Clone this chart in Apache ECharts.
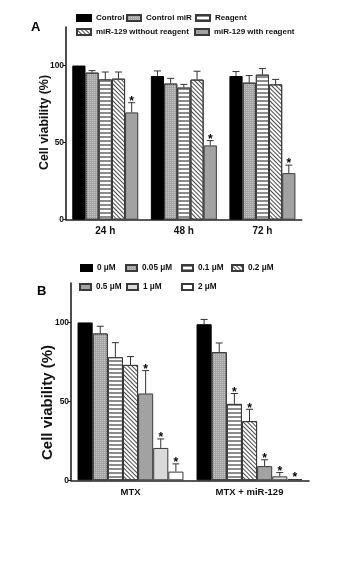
<!DOCTYPE html>
<html><head><meta charset="utf-8">
<script src="https://cdn.jsdelivr.net/npm/echarts@6/dist/echarts.min.js"></script>
<style>html,body{margin:0;padding:0;background:#fff}#c{width:348px;height:562px}</style>
</head><body><div id="c"></div>
<script>
// ---------- Panel A data ----------
const catsA = ['24 h', '48 h', '72 h'];
const namesA = ['Control', 'Control miR', 'Reagent', 'miR-129 without reagent', 'miR-129 with reagent'];
const valsA = [
  [100, 93.2, 93.2],
  [95.4, 88.3, 88.9],
  [91.0, 85.7, 94.1],
  [91.5, 90.9, 87.8],
  [69.6, 48.2, 30.2]
];
const sdA = [
  [0, 3.3, 2.9],
  [1.3, 3.4, 4.6],
  [4.8, 2.1, 3.9],
  [4.3, 5.4, 3.2],
  [6.3, 3.1, 5.2]
];
const starA = [
  [0, 0, 0], [0, 0, 0], [0, 0, 0], [0, 0, 0], [1, 1, 1]
];
// ---------- Panel B data ----------
const catsB = ['MTX', 'MTX + miR-129'];
const namesB = ['0 μM', '0.05 μM', '0.1 μM', '0.2 μM', '0.5 μM', '1 μM', '2 μM'];
const valsB = [
  [100, 98.9],
  [93.0, 81.2],
  [78.0, 48.4],
  [73.1, 37.5],
  [55.0, 9.0],
  [20.5, 2.5],
  [5.5, 0.8]
];
const sdB = [
  [0, 3.0],
  [4.6, 5.8],
  [9.2, 6.6],
  [5.3, 7.5],
  [14.5, 4.0],
  [5.7, 2.4],
  [4.9, 0]
];
const starB = [
  [0, 0], [0, 0], [0, 1], [0, 1], [1, 1], [1, 1], [1, 1]
];
const yTicks = [0, 50, 100];

// ---------- styles ----------
const FN = '"Liberation Sans",Arial,sans-serif';
const BORDER = '#3a3a3a';
const styles = {
  black: {color: '#000', borderColor: '#000', borderWidth: 1},
  dotted: {color: '#a4a4a4', borderColor: BORDER, borderWidth: 1,
    decal: {symbol: 'rect', symbolSize: 1, dashArrayX: [1, 1], dashArrayY: [1, 1], color: '#c6c6c6', rotation: 0}},
  hstripe: {color: '#ffffff', borderColor: BORDER, borderWidth: 1,
    decal: {symbol: 'rect', symbolSize: 1, dashArrayX: [1, 0], dashArrayY: [1.7, 1.7], color: '#8c8c8c', rotation: 0}},
  hatch: {color: '#ffffff', borderColor: BORDER, borderWidth: 1,
    decal: {symbol: 'rect', symbolSize: 1, dashArrayX: [1, 0], dashArrayY: [1, 1.3], color: '#4a4a4a', rotation: Math.PI / 4}},
  gray: {color: '#a2a2a2', borderColor: BORDER, borderWidth: 1},
  light: {color: '#dadada', borderColor: BORDER, borderWidth: 1},
  white: {color: '#ffffff', borderColor: BORDER, borderWidth: 1}
};
const styleA = ['black', 'dotted', 'hstripe', 'hatch', 'gray'];
const styleB = ['black', 'dotted', 'hstripe', 'hatch', 'gray', 'light', 'white'];
const gapA = 0.16, gapB = 0.11;

function errSeries(xi, yi, vals, sds, stars, gap) {
  const n = vals.length;
  const data = [];
  for (let s = 0; s < n; s++)
    for (let c = 0; c < vals[s].length; c++)
      data.push([c, s, vals[s][c], sds[s][c], stars[s][c]]);
  return {
    type: 'custom', xAxisIndex: xi, yAxisIndex: yi, silent: true, z: 5,
    encode: {x: 0, y: 2},
    data: data,
    renderItem: function (params, api) {
      const c = api.value(0), s = api.value(1), v = api.value(2), sd = api.value(3), st = api.value(4);
      const base = api.coord([c, v]);
      const catW = api.size([1, 0])[0];
      const bw = catW * (1 - gap) / n;
      const x = base[0] + (s - (n - 1) / 2) * bw;
      const yTop = api.coord([c, v + sd])[1];
      const ch = [];
      if (sd > 0) {
        ch.push({type: 'line', shape: {x1: x, y1: base[1], x2: x, y2: yTop}, style: {stroke: '#333', lineWidth: 1}});
        ch.push({type: 'line', shape: {x1: x - 3.5, y1: yTop, x2: x + 3.5, y2: yTop}, style: {stroke: '#333', lineWidth: 1}});
      }
      if (st) {
        ch.push({type: 'text', x: x, y: yTop - 1, style: {text: '*', fill: '#000', font: 'bold 12px "Liberation Sans",Arial', align: 'center', verticalAlign: 'middle'}});
      }
      return {type: 'group', children: ch};
    }
  };
}

const series = [];
namesA.forEach((nm, i) => series.push({
  name: nm, type: 'bar', xAxisIndex: 0, yAxisIndex: 0, data: valsA[i],
  barGap: '0%', barCategoryGap: (gapA * 100) + '%', itemStyle: styles[styleA[i]], silent: true
}));
namesB.forEach((nm, i) => series.push({
  name: nm, type: 'bar', xAxisIndex: 1, yAxisIndex: 1, data: valsB[i],
  barGap: '0%', barCategoryGap: (gapB * 100) + '%', itemStyle: styles[styleB[i]], silent: true
}));
series.push(errSeries(0, 0, valsA, sdA, starA, gapA));
series.push(errSeries(1, 1, valsB, sdB, starB, gapB));

function leg(name, left, top, w, h, fs) {
  return {data: [name], left: left, top: top, itemWidth: w, itemHeight: h, itemGap: 0,
    selectedMode: false, icon: 'rect', padding: 0,
    textStyle: {fontFamily: FN, fontWeight: 'bold', fontSize: fs, color: '#111'}};
}
const legends = [
  leg('Control', 76, 14, 14, 6, 8),
  leg('Control miR', 126, 14, 14, 6, 8),
  leg('Reagent', 195, 14, 14, 6, 8),
  leg('miR-129 without reagent', 76, 28, 14, 6, 8),
  leg('miR-129 with reagent', 194, 28, 14, 6, 8),
  leg('0 μM', 80, 264, 11, 6, 8.2),
  leg('0.05 μM', 125, 264, 11, 6, 8.2),
  leg('0.1 μM', 181, 264, 11, 6, 8.2),
  leg('0.2 μM', 231, 264, 11, 6, 8.2),
  leg('0.5 μM', 79, 283, 11, 6, 8.2),
  leg('1 μM', 126, 283, 11, 6, 8.2),
  leg('2 μM', 181, 283, 11, 6, 8.2)
];

function xAx(gi, cats, fs) {
  return {type: 'category', gridIndex: gi, data: cats,
    axisLine: {lineStyle: {color: '#222', width: 1.6}},
    axisTick: {alignWithLabel: true, length: 3, lineStyle: {color: '#222'}},
    axisLabel: {fontFamily: FN, fontWeight: 'bold', fontSize: fs, color: '#111', margin: 7},
    splitLine: {show: false}};
}
function yAx(gi) {
  return {type: 'value', gridIndex: gi, min: 0, max: 125,
    axisLine: {show: true, lineStyle: {color: '#222', width: 1.6}},
    axisTick: {show: true, length: 3, customValues: yTicks, lineStyle: {color: '#222'}},
    axisLabel: {customValues: yTicks, fontFamily: FN, fontWeight: 'bold', fontSize: 8.4, color: '#111', margin: 2},
    splitLine: {show: false}};
}

const chart = echarts.init(document.getElementById('c'), null, {renderer: 'canvas'});
chart.setOption({
  animation: false,
  backgroundColor: '#fff',
  grid: [
    {left: 66, top: 27, right: 46.3, bottom: 342.3},
    {left: 71, top: 283, right: 39, bottom: 81.7}
  ],
  xAxis: [xAx(0, catsA, 10), xAx(1, catsB, 9.5)],
  yAxis: [yAx(0), yAx(1)],
  legend: legends,
  series: series,
  graphic: [
    {type: 'text', left: 31, top: 21, style: {text: 'A', font: 'bold 13px "Liberation Sans",Arial', fill: '#000'}},
    {type: 'text', left: 37, top: 285, style: {text: 'B', font: 'bold 13px "Liberation Sans",Arial', fill: '#000'}},
    {type: 'text', x: 45, y: 122.5, rotation: Math.PI / 2,
      style: {text: 'Cell viability (%)', font: 'bold 12.4px "Liberation Sans",Arial', fill: '#111', align: 'center', verticalAlign: 'middle'}},
    {type: 'text', x: 48, y: 402.5, rotation: Math.PI / 2,
      style: {text: 'Cell viability (%)', font: 'bold 15px "Liberation Sans",Arial', fill: '#111', align: 'center', verticalAlign: 'middle'}}
  ]
});
</script></body></html>
